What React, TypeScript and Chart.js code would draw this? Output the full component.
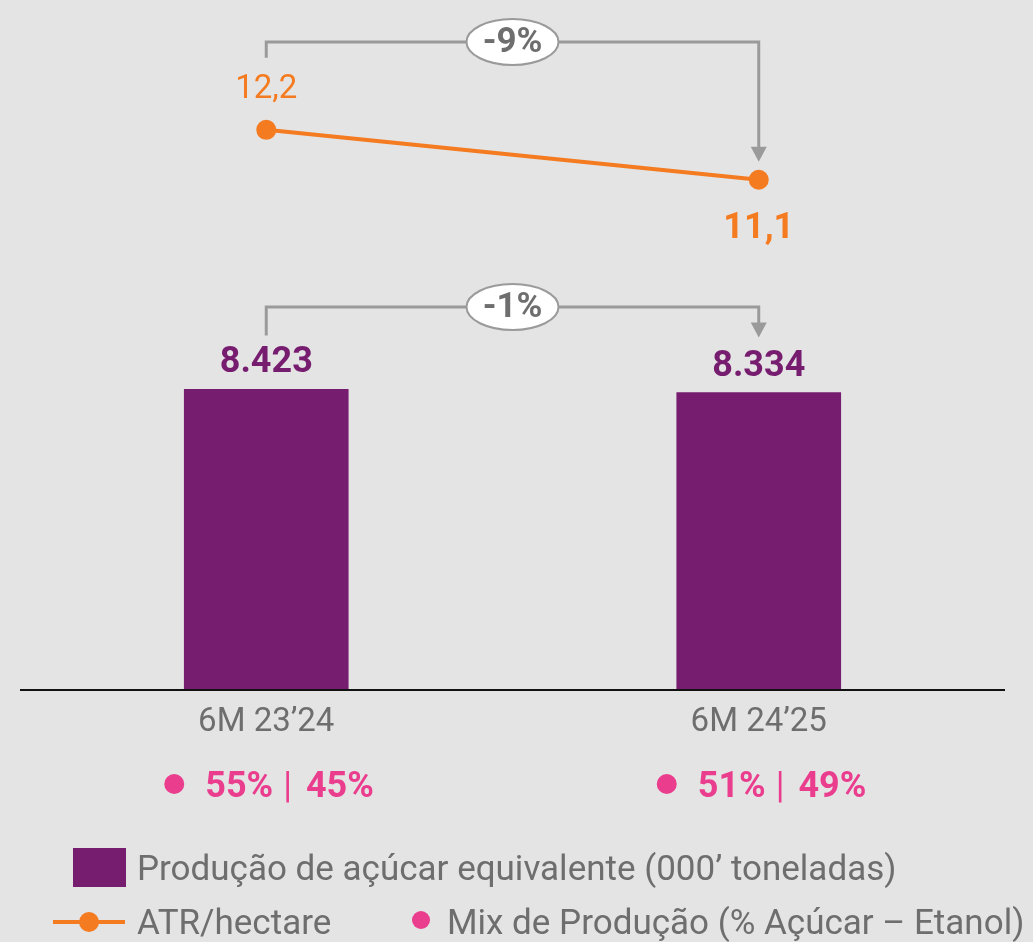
import React, { useEffect, useRef } from "react";
import { Chart, registerables } from "chart.js";

Chart.register(...registerables);

const categories = ["6M 23’24", "6M 24’25"];
const productionValues = [8423, 8334];
const productionLabels = ["8.423", "8.334"];
const atrValues = [12.2, 11.1];
const atrLabels = ["12,2", "11,1"];
const mixSugar = ["55%", "51%"];
const mixEthanol = ["45%", "49%"];
const changeAtr = "-9%";
const changeProduction = "-1%";
const legendProduction = "Produção de açúcar equivalente (000’ toneladas)";
const legendAtr = "ATR/hectare";
const legendMix = "Mix de Produção (% Açúcar – Etanol)";

const PURPLE = "#771d70";
const ORANGE = "#f47b20";
const PINK = "#ea3d8e";
const GRAY_TEXT = "#6e6e6e";
const GRAY_LINE = "#9a9a9a";
const BG = "#e4e4e4";
const FONT = "Roboto, 'Noto Sans', sans-serif";

function drawBracket(ctx: CanvasRenderingContext2D, x1: number, yStart: number, x2: number, yTop: number, yTip: number, label: string) {
  ctx.save();
  ctx.strokeStyle = GRAY_LINE;
  ctx.lineWidth = 3;
  ctx.beginPath();
  ctx.moveTo(x1, yStart);
  ctx.lineTo(x1, yTop);
  ctx.lineTo(x2, yTop);
  ctx.lineTo(x2, yTip - 14);
  ctx.stroke();
  ctx.fillStyle = GRAY_LINE;
  ctx.beginPath();
  ctx.moveTo(x2 - 8, yTip - 15);
  ctx.lineTo(x2 + 8, yTip - 15);
  ctx.lineTo(x2, yTip);
  ctx.closePath();
  ctx.fill();
  const cx = (x1 + x2) / 2;
  ctx.fillStyle = "#ffffff";
  ctx.strokeStyle = GRAY_LINE;
  ctx.lineWidth = 2;
  ctx.beginPath();
  ctx.ellipse(cx, yTop, 46, 23, 0, 0, Math.PI * 2);
  ctx.fill();
  ctx.stroke();
  ctx.fillStyle = GRAY_TEXT;
  ctx.font = `bold 35px ${FONT}`;
  ctx.textAlign = "center";
  ctx.textBaseline = "middle";
  ctx.fillText(label, cx, yTop + 1);
  ctx.restore();
}

const overlayPlugin = {
  id: "overlay",
  beforeDraw(chart: any) {
    const ctx = chart.ctx;
    ctx.save();
    ctx.fillStyle = BG;
    ctx.fillRect(0, 0, chart.width, chart.height);
    ctx.restore();
  },
  afterDraw(chart: any) {
    const ctx: CanvasRenderingContext2D = chart.ctx;
    const bars = chart.getDatasetMeta(0).data;
    const pts = chart.getDatasetMeta(1).data;
    const area = chart.chartArea;

    // axis line
    ctx.save();
    ctx.strokeStyle = "#111";
    ctx.lineWidth = 2;
    ctx.beginPath();
    ctx.moveTo(area.left, area.bottom);
    ctx.lineTo(area.right, area.bottom);
    ctx.stroke();
    ctx.restore();

    ctx.save();
    ctx.textAlign = "center";
    ctx.textBaseline = "middle";
    // bar labels
    bars.forEach((b: any, i: number) => {
      ctx.fillStyle = PURPLE;
      ctx.font = `bold 36px ${FONT}`;
      ctx.fillText(productionLabels[i], b.x, b.y - 26);
    });
    // ATR labels
    pts.forEach((p: any, i: number) => {
      ctx.fillStyle = ORANGE;
      if (i === 0) {
        ctx.font = `33px ${FONT}`;
        ctx.fillText(atrLabels[i], p.x, p.y - 40);
      } else {
        ctx.font = `bold 36px ${FONT}`;
        ctx.fillText(atrLabels[i], p.x, p.y + 49);
      }
    });
    // category labels + mix
    categories.forEach((c, i) => {
      const x = bars[i].x;
      ctx.fillStyle = GRAY_TEXT;
      ctx.font = `33px ${FONT}`;
      ctx.textAlign = "center";
      ctx.fillText(c, x, area.bottom + 33);
      // mix
      const y = area.bottom + 98;
      ctx.fillStyle = PINK;
      ctx.beginPath();
      ctx.arc(x - 92, y - 4, 10, 0, Math.PI * 2);
      ctx.fill();
      ctx.textAlign = "left";
      let tx = x - 61;
      ctx.font = `bold 36px ${FONT}`;
      ctx.fillText(mixSugar[i], tx, y);
      tx += ctx.measureText(mixSugar[i]).width + 10;
      ctx.font = `36px ${FONT}`;
      ctx.fillText("|", tx, y);
      tx += ctx.measureText("|").width + 14;
      ctx.font = `bold 36px ${FONT}`;
      ctx.fillText(mixEthanol[i], tx, y);
    });
    ctx.restore();

    // brackets
    drawBracket(ctx, pts[0].x, pts[0].y - 72, pts[1].x, 42, pts[1].y - 18, changeAtr);
    drawBracket(ctx, bars[0].x, bars[0].y - 54, bars[1].x, 307, bars[1].y - 55, changeProduction);

    // legend
    ctx.save();
    ctx.textBaseline = "middle";
    ctx.textAlign = "left";
    ctx.fillStyle = PURPLE;
    ctx.fillRect(73, 848, 53, 39);
    ctx.fillStyle = GRAY_TEXT;
    ctx.font = `35px ${FONT}`;
    ctx.fillText(legendProduction, 137, 871);

    ctx.strokeStyle = ORANGE;
    ctx.lineWidth = 4;
    ctx.beginPath();
    ctx.moveTo(53, 922);
    ctx.lineTo(125, 922);
    ctx.stroke();
    ctx.fillStyle = ORANGE;
    ctx.beginPath();
    ctx.arc(89, 922, 10, 0, Math.PI * 2);
    ctx.fill();
    ctx.fillStyle = GRAY_TEXT;
    ctx.fillText(legendAtr, 137, 925);

    ctx.fillStyle = PINK;
    ctx.beginPath();
    ctx.arc(421, 920, 9, 0, Math.PI * 2);
    ctx.fill();
    ctx.fillStyle = GRAY_TEXT;
    ctx.fillText(legendMix, 447, 925);
    ctx.restore();
  },
};

export default function App() {
  const ref = useRef<HTMLCanvasElement | null>(null);
  useEffect(() => {
    document.body.style.margin = "0";
    const canvas = ref.current!;
    const chart = new Chart(canvas, {
      type: "bar",
      data: {
        labels: categories,
        datasets: [
          {
            type: "bar",
            label: legendProduction,
            data: productionValues,
            backgroundColor: PURPLE,
            barThickness: 164,
            yAxisID: "y",
            order: 2,
          },
          {
            type: "line",
            label: legendAtr,
            data: atrValues,
            borderColor: ORANGE,
            backgroundColor: ORANGE,
            borderWidth: 4,
            pointRadius: 10,
            pointBackgroundColor: ORANGE,
            pointBorderWidth: 0,
            yAxisID: "y2",
            order: 1,
          },
        ],
      },
      options: {
        responsive: false,
        animation: false,
        layout: { padding: { left: 20, right: 28, top: 0, bottom: 252 } },
        plugins: { legend: { display: false }, tooltip: { enabled: false } },
        scales: {
          x: { display: false },
          y: { display: false, min: 0, max: 19057 },
          y2: { display: false, min: -0.143, max: 14.84, position: "right" },
        },
      },
      plugins: [overlayPlugin],
    });
    return () => chart.destroy();
  }, []);
  return (
    <div style={{ width: 1033, height: 942, background: BG }}>
      <canvas ref={ref} width={1033} height={942} style={{ display: "block" }} />
    </div>
  );
}
